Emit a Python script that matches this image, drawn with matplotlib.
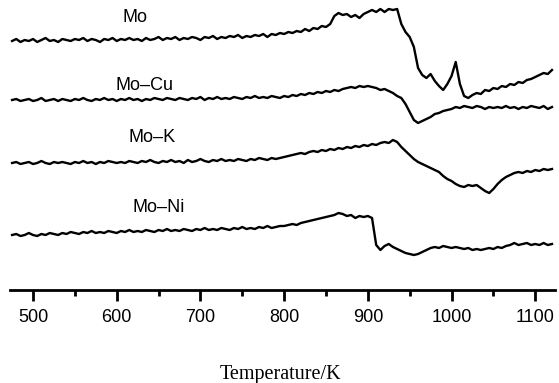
import numpy as np
import matplotlib.pyplot as plt

plt.rcParams["font.family"] = ["Liberation Sans", "DejaVu Sans"]

# temperature grid (K), one reading every 5 K
temps = np.arange(475, 1121, 5)

# signal heights (arbitrary units), 13 values per row
mo = [
    249, 251, 248, 250, 249, 251, 248, 250, 252, 249, 250, 248, 251,
    250, 249, 251, 250, 252, 249, 251, 250, 248, 251, 250, 252, 249,
    251, 250, 252, 250, 251, 249, 252, 250, 251, 253, 250, 252, 251,
    253, 250, 252, 251, 253, 252, 250, 253, 252, 254, 251, 253, 252,
    254, 253, 255, 252, 254, 253, 255, 254, 256, 253, 256, 255, 257,
    256, 258, 257, 259, 258, 261, 259, 262, 261, 264, 263, 266, 274,
    277, 275, 276, 273, 275, 272, 276, 278, 280, 278, 281, 278, 281,
    280, 281, 266, 258, 253, 243, 222, 215, 212, 216, 209, 204, 200,
    206, 214, 228, 206, 194, 192, 195, 197, 196, 200, 199, 202, 201,
    204, 203, 206, 205, 208, 207, 210, 211, 213, 215, 217, 216, 220,
]

mo_cu = [
    190, 191, 189, 190, 191, 189, 190, 192, 189, 190, 191, 189, 191,
    190, 189, 191, 190, 192, 190, 189, 191, 190, 192, 190, 191, 189,
    191, 190, 192, 190, 191, 189, 191, 190, 192, 191, 190, 192, 191,
    190, 192, 191, 190, 192, 191, 193, 190, 192, 191, 193, 191, 192,
    191, 193, 192, 191, 193, 192, 194, 192, 193, 192, 194, 193, 192,
    194, 193, 195, 194, 196, 195, 197, 196, 198, 197, 199, 198, 200,
    199, 201, 202, 203, 202, 204, 203, 204, 203, 202, 200, 201, 199,
    197, 194, 192, 186, 178, 170, 167, 169, 171, 173, 176, 177, 179,
    180, 181, 183, 182, 184, 183, 182, 184, 183, 181, 183, 182, 183,
    182, 184, 182, 183, 181, 183, 182, 184, 183, 182, 184, 181, 183,
]

mo_k = [
    127, 128, 126, 127, 128, 126, 127, 129, 127, 126, 128, 127, 128,
    127, 126, 128, 127, 129, 127, 128, 126, 128, 127, 129, 128, 127,
    128, 127, 129, 128, 127, 129, 128, 130, 128, 127, 129, 128, 130,
    128, 129, 127, 130, 128, 129, 131, 129, 128, 130, 129, 131, 129,
    130, 129, 131, 130, 129, 131, 130, 132, 131, 130, 132, 131, 132,
    133, 134, 135, 136, 137, 136, 138, 139, 138, 140, 139, 141, 140,
    142, 141, 143, 142, 144, 143, 145, 144, 146, 145, 147, 148, 147,
    150, 148, 143, 139, 135, 131, 128, 126, 124, 122, 120, 118, 114,
    111, 109, 106, 104, 103, 105, 104, 105, 102, 99, 97, 101, 106,
    110, 113, 115, 117, 118, 117, 119, 118, 120, 119, 121, 120, 121,
]

mo_ni = [
    55, 56, 54, 55, 57, 55, 54, 56, 55, 57, 56, 55, 57,
    56, 58, 57, 56, 58, 57, 59, 57, 58, 57, 59, 58, 57,
    59, 58, 60, 58, 59, 58, 60, 59, 58, 60, 59, 61, 59,
    60, 59, 61, 60, 59, 61, 60, 62, 60, 61, 60, 62, 61,
    60, 62, 61, 63, 61, 62, 61, 63, 62, 64, 62, 63, 64,
    64, 65, 66, 65, 67, 68, 69, 70, 71, 72, 73, 74, 75,
    77, 76, 74, 75, 72, 74, 73, 74, 72, 45, 40, 44, 46,
    43, 41, 39, 37, 36, 35, 36, 38, 40, 42, 43, 42, 44,
    43, 42, 43, 42, 41, 42, 40, 41, 40, 41, 42, 41, 43,
    42, 44, 45, 47, 45, 46, 47, 45, 46, 45, 47, 45, 46,
]

series = [mo, mo_cu, mo_k, mo_ni]
names = ["Mo", "Mo–Cu", "Mo–K", "Mo–Ni"]
# where each name sits (temperature, height)
name_pos = [(622, 273), (633, 205), (642, 152), (650, 82)]

fig = plt.figure(figsize=(5.59, 3.83), dpi=100)
ax = fig.add_axes([10 / 559, 93 / 383, 545 / 559, 290 / 383])

for vals in series:
    ax.plot(temps, vals, color="black", lw=1.7)

for name, (tx, ty) in zip(names, name_pos):
    ax.text(tx, ty, name, fontsize=13, ha="center", va="center")

ax.set_xlim(472.5, 1123.6)
ax.set_ylim(0, 290)
for side in ["left", "right", "top"]:
    ax.spines[side].set_visible(False)
ax.spines["bottom"].set_linewidth(2)
ax.set_yticks([])
ax.set_xticks(range(500, 1101, 100))
ax.set_xticks(range(550, 1100, 100), minor=True)
ax.tick_params(axis="x", which="major", length=8, width=2, labelsize=13, pad=6)
ax.tick_params(axis="x", which="minor", length=4, width=2)

fig.text(280 / 559, 1 - 375 / 383, "Temperature/K", family="Liberation Serif",
         fontsize=14.5, ha="center", va="center")

fig.savefig("out.png", dpi=100)
